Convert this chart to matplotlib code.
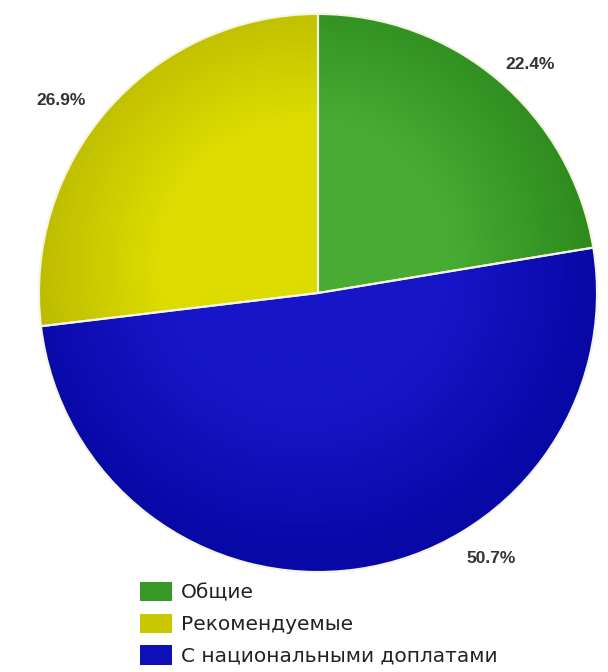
import matplotlib.pyplot as plt
import numpy as np
from matplotlib.colors import LinearSegmentedColormap

# slice data (clockwise from 12 o'clock)
categories = ["Общие", "С национальными доплатами", "Рекомендуемые"]
shares = [22.4, 50.7, 26.9]
# light (centre) / dark (rim) shade for each slice
light = ["#48ac33", "#1616c8", "#dcdc00"]
dark = ["#2c8a1c", "#0808a6", "#b6b600"]
mid = ["#379a26", "#1010b8", "#c8c800"]
legend_order = [0, 2, 1]
# where each percentage label sits, in pie radius units
label_xy = [(0.76, 0.82), (0.62, -0.95), (-0.92, 0.69)]

fig = plt.figure(figsize=(6.08, 6.72), dpi=100)
ax = fig.add_axes([39 / 608, 100 / 672, 558 / 608, 558 / 672])

wedges, _ = ax.pie(shares, colors=light, startangle=90, counterclock=False,
                   radius=1.0, wedgeprops=dict(edgecolor="#f4f4e0", linewidth=1.5))

# radial shading inside each slice
yy, xx = np.mgrid[-1:1:400j, -1:1:400j]
rr = np.sqrt((xx + 0.05) ** 2 + (yy - 0.1) ** 2)
for w, c0, c1 in zip(wedges, light, dark):
    cmap = LinearSegmentedColormap.from_list("g", [c0, c0, c1])
    im = ax.imshow(rr, extent=(-1, 1, -1, 1), origin="lower", cmap=cmap,
                   vmin=0, vmax=1.05, zorder=w.get_zorder() + 0.1)
    im.set_clip_path(w)
    w.set_facecolor("none")
    w.set_zorder(w.get_zorder() + 0.2)

for (x, y), v in zip(label_xy, shares):
    ax.text(x, y, f"{v}%", ha="center", va="center", fontsize=12.5,
            fontweight="bold", color="#333333", family="Liberation Sans")

ax.set_xlim(-1, 1)
ax.set_ylim(-1, 1)
ax.set_aspect("equal")
ax.axis("off")

handles = [plt.Rectangle((0, 0), 1, 1, facecolor=mid[i], edgecolor="none") for i in legend_order]
labels = [categories[i] for i in legend_order]
fig.legend(handles, labels, loc="upper left", bbox_to_anchor=(140 / 608, 1 - 582 / 672),
           frameon=False, fontsize=14.5, handlelength=1.6, handleheight=1.1,
           handletextpad=0.45, labelspacing=0.55, borderpad=0, borderaxespad=0,
           labelcolor="#222222")

fig.savefig("out.png", dpi=100)
